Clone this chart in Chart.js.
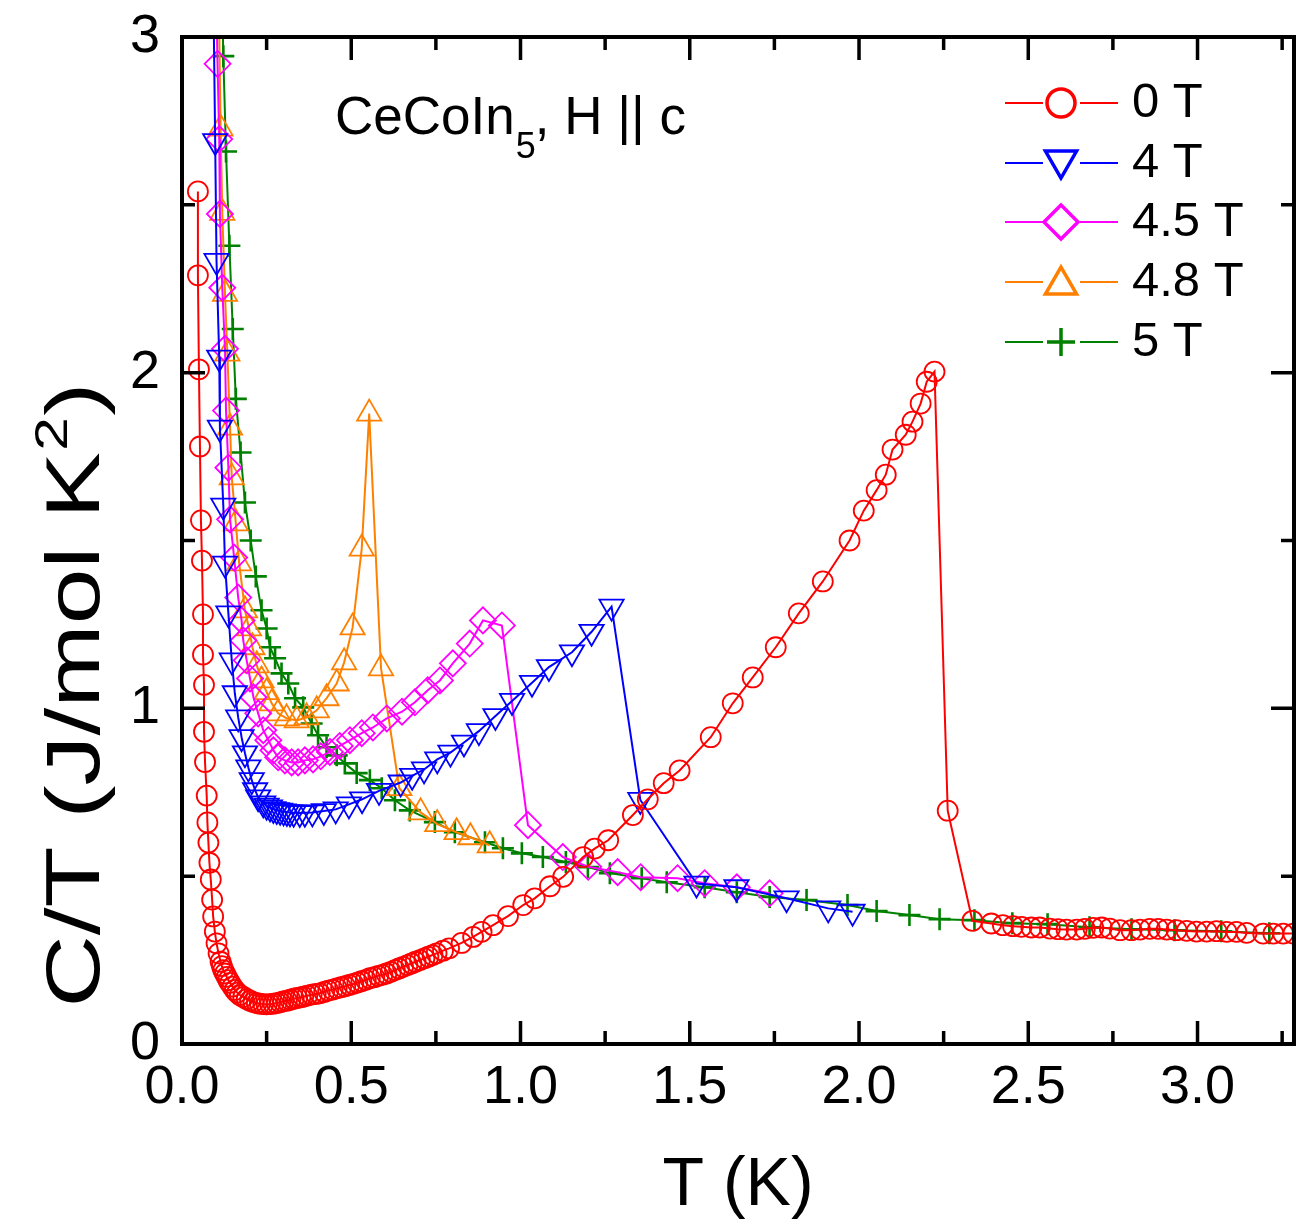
<!DOCTYPE html>
<html><head><meta charset="utf-8">
<script src="https://cdn.jsdelivr.net/npm/chart.js@4.4.0/dist/chart.umd.min.js"></script>
<style>html,body{margin:0;padding:0;background:#fff;}canvas{display:block;}</style>
</head><body>
<canvas id="c" width="1296" height="1229"></canvas>
<script>
const FONT = "'Liberation Sans', Arial, Helvetica, sans-serif";

// ---- data ----
const seriesLabels = ['0 T', '4 T', '4.5 T', '4.8 T', '5 T'];
const xMajorTicks = [0, 0.5, 1, 1.5, 2, 2.5, 3];
const xMinorTicks = [0.25, 0.75, 1.25, 1.75, 2.25, 2.75, 3.25];
const yMajorTicks = [0, 1, 2, 3];
const yMinorTicks = [0.5, 1.5, 2.5];

const T_0T = [0.047,0.047,0.050,0.053,0.056,0.059,0.062,0.062,0.065,0.065,0.068,0.073,0.075,0.078,0.081,0.085,0.089,0.092,0.097,0.102,0.108,0.114,0.118,0.122,0.127,0.132,0.137,0.142,0.149,0.156,0.163,0.171,0.181,0.191,0.201,0.211,0.221,0.230,0.240,0.250,0.260,0.270,0.280,0.290,0.299,0.310,0.320,0.330,0.340,0.350,0.358,0.370,0.383,0.395,0.407,0.420,0.432,0.445,0.457,0.470,0.482,0.494,0.506,0.518,0.530,0.543,0.555,0.568,0.580,0.592,0.604,0.617,0.629,0.641,0.653,0.666,0.678,0.690,0.703,0.716,0.728,0.740,0.752,0.771,0.789,0.826,0.860,0.885,0.919,0.963,1.008,1.042,1.087,1.126,1.185,1.219,1.259,1.332,1.376,1.423,1.470,1.562,1.627,1.686,1.754,1.822,1.893,1.972,2.014,2.052,2.079,2.099,2.138,2.158,2.182,2.200,2.223,2.262,2.335,2.391,2.425,2.455,2.480,2.509,2.534,2.564,2.588,2.613,2.643,2.667,2.692,2.717,2.741,2.771,2.805,2.830,2.859,2.884,2.909,2.938,2.968,2.997,3.027,3.056,3.086,3.115,3.145,3.194,3.224,3.253,3.283];
const CT_0T = [2.54,2.29,2.01,1.78,1.56,1.44,1.28,1.16,1.07,0.93,0.84,0.74,0.66,0.60,0.54,0.49,0.43,0.38,0.335,0.30,0.27,0.245,0.232,0.22,0.21,0.20,0.19,0.182,0.171,0.161,0.153,0.146,0.140,0.134,0.129,0.125,0.122,0.120,0.119,0.118,0.119,0.120,0.122,0.124,0.127,0.129,0.132,0.135,0.137,0.139,0.141,0.144,0.147,0.149,0.151,0.155,0.159,0.162,0.166,0.169,0.172,0.176,0.179,0.183,0.187,0.191,0.196,0.199,0.203,0.206,0.210,0.215,0.220,0.225,0.230,0.235,0.240,0.245,0.250,0.255,0.260,0.265,0.270,0.278,0.285,0.301,0.319,0.334,0.354,0.381,0.414,0.434,0.470,0.498,0.557,0.582,0.607,0.682,0.729,0.777,0.815,0.914,1.015,1.092,1.182,1.283,1.378,1.500,1.589,1.650,1.696,1.771,1.815,1.854,1.908,1.973,2.003,0.695,0.367,0.359,0.354,0.351,0.349,0.347,0.347,0.344,0.342,0.341,0.341,0.343,0.346,0.347,0.344,0.339,0.339,0.341,0.343,0.343,0.341,0.339,0.337,0.335,0.335,0.336,0.334,0.334,0.331,0.329,0.329,0.329,0.329];

const T_4T = [0.093,0.098,0.102,0.110,0.112,0.122,0.127,0.137,0.147,0.156,0.166,0.176,0.186,0.196,0.206,0.216,0.225,0.240,0.250,0.260,0.270,0.280,0.290,0.300,0.310,0.319,0.330,0.348,0.363,0.385,0.419,0.454,0.493,0.532,0.582,0.646,0.680,0.715,0.754,0.793,0.833,0.877,0.926,0.975,1.034,1.084,1.152,1.210,1.269,1.354,1.520,1.638,1.786,1.909,1.981];
const CT_4T = [3.1,2.69,2.333,2.045,1.836,1.604,1.431,1.283,1.143,1.045,0.973,0.914,0.866,0.824,0.786,0.756,0.735,0.717,0.710,0.705,0.700,0.697,0.695,0.693,0.691,0.690,0.689,0.688,0.689,0.690,0.694,0.699,0.714,0.729,0.754,0.779,0.799,0.818,0.848,0.868,0.898,0.932,0.977,1.022,1.076,1.123,1.167,1.228,1.303,0.727,0.478,0.467,0.434,0.404,0.394];

const T_45T = [0.1015,0.105,0.110,0.112,0.119,0.127,0.130,0.137,0.142,0.154,0.166,0.176,0.181,0.191,0.201,0.211,0.225,0.240,0.255,0.270,0.284,0.304,0.324,0.343,0.363,0.387,0.410,0.437,0.466,0.496,0.531,0.564,0.605,0.650,0.688,0.726,0.762,0.800,0.850,0.889,0.945,1.022,1.125,1.200,1.287,1.355,1.464,1.544,1.639,1.736];
const CT_45T = [3.1,2.92,2.696,2.473,2.253,2.071,1.887,1.717,1.563,1.449,1.330,1.262,1.202,1.143,1.089,1.033,0.985,0.935,0.905,0.875,0.854,0.845,0.839,0.839,0.845,0.848,0.857,0.870,0.888,0.905,0.926,0.943,0.970,0.990,1.018,1.054,1.083,1.134,1.193,1.262,1.247,0.652,0.557,0.528,0.512,0.497,0.494,0.479,0.467,0.449];

const T_48T = [0.109,0.114,0.119,0.127,0.134,0.142,0.147,0.159,0.169,0.186,0.198,0.208,0.221,0.235,0.250,0.265,0.284,0.309,0.339,0.368,0.398,0.427,0.457,0.479,0.504,0.531,0.553,0.588,0.642,0.705,0.754,0.811,0.852,0.909];
const CT_48T = [3.1,2.727,2.476,2.235,2.057,1.836,1.688,1.551,1.432,1.292,1.238,1.182,1.128,1.083,1.048,1.015,0.985,0.970,0.964,0.973,0.994,1.030,1.074,1.137,1.241,1.476,1.878,1.119,0.762,0.690,0.655,0.631,0.616,0.592];

const T_5T = [0.119,0.122,0.130,0.140,0.150,0.159,0.173,0.186,0.203,0.218,0.235,0.250,0.260,0.275,0.294,0.314,0.334,0.358,0.383,0.402,0.427,0.457,0.481,0.516,0.555,0.590,0.629,0.673,0.747,0.806,0.895,0.948,1.004,1.066,1.134,1.199,1.264,1.358,1.432,1.544,1.639,1.736,1.845,1.966,2.052,2.149,2.238,2.341,2.453,2.557,2.681,2.805,2.932,3.070,3.212];
const CT_5T = [3.1,2.943,2.659,2.378,2.130,1.922,1.762,1.613,1.500,1.393,1.292,1.238,1.182,1.149,1.104,1.074,1.030,1.003,0.955,0.920,0.884,0.860,0.836,0.807,0.786,0.762,0.726,0.696,0.661,0.631,0.601,0.583,0.568,0.557,0.542,0.527,0.509,0.494,0.482,0.467,0.452,0.438,0.429,0.414,0.396,0.384,0.372,0.369,0.360,0.357,0.348,0.342,0.339,0.336,0.330];

// ---- styles ----
const colors = ['#ff0000', '#0000ff', '#ff00ff', '#ff8000', '#008000'];
const pStyles = ['circle', 'triangle', 'rectRot', 'triangle', 'cross'];
const pRot = [0, 180, 0, 0, 0];
const pRad = [10, 14, 13, 14, 11];
const legendRad = [14, 18, 17, 18, 14];

function zip(xs, ys) { const n = Math.min(xs.length, ys.length); const a = []; for (let i = 0; i < n; i++) a.push({x: xs[i], y: ys[i]}); return a; }
const allT = [T_0T, T_4T, T_45T, T_48T, T_5T];
const allC = [CT_0T, CT_4T, CT_45T, CT_48T, CT_5T];

const datasets = seriesLabels.map((lab, i) => ({
  label: lab,
  data: zip(allT[i], allC[i]),
  showLine: true,
  borderColor: colors[i],
  borderWidth: 2,
  backgroundColor: 'rgba(0,0,0,0)',
  pointStyle: pStyles[i],
  pointRotation: pRot[i],
  pointRadius: pRad[i],
  pointBorderColor: colors[i],
  pointBackgroundColor: 'rgba(255,255,255,0)',
  pointBorderWidth: i === 4 ? 2.6 : 1.8,
  tension: 0,
  order: i
}));

const framePlugin = {
  id: 'frame',
  afterDatasetsDraw(chart) {
    const {ctx, chartArea: a, scales: {x, y}} = chart;
    ctx.save();
    ctx.strokeStyle = '#000';
    ctx.lineWidth = 3.5;
    ctx.beginPath();
    const tk = (v, len) => { const px = x.getPixelForValue(v); ctx.moveTo(px, a.bottom); ctx.lineTo(px, a.bottom - len); ctx.moveTo(px, a.top); ctx.lineTo(px, a.top + len); };
    xMajorTicks.forEach(v => tk(v, 23));
    xMinorTicks.forEach(v => { if (v <= x.max) tk(v, 13); });
    const tky = (v, len) => { const py = y.getPixelForValue(v); ctx.moveTo(a.left, py); ctx.lineTo(a.left + len, py); ctx.moveTo(a.right, py); ctx.lineTo(a.right - len, py); };
    yMajorTicks.forEach(v => tky(v, 23));
    yMinorTicks.forEach(v => tky(v, 13));
    ctx.stroke();
    ctx.lineWidth = 4;
    ctx.strokeRect(a.left, a.top, a.right - a.left, a.bottom - a.top);
    ctx.restore();
  },
  afterDraw(chart) {
    const ctx = chart.ctx;
    ctx.save();
    // legend
    const rowsY = [103, 163, 222, 282, 342];
    seriesLabels.forEach((lab, i) => {
      const yy = rowsY[i];
      ctx.strokeStyle = colors[i];
      ctx.lineWidth = 2;
      ctx.beginPath();
      ctx.moveTo(1005, yy); ctx.lineTo(1043, yy);
      ctx.moveTo(1080, yy); ctx.lineTo(1118, yy);
      ctx.stroke();
      ctx.fillStyle = 'rgba(0,0,0,0)';
      ctx.lineWidth = 3.5;
      Chart.helpers.drawPoint(ctx, {pointStyle: pStyles[i], rotation: pRot[i], radius: legendRad[i], borderWidth: 3.5}, 1061, yy + (pStyles[i]==='triangle' ? (pRot[i] ? -3 : 3) : 0));
      ctx.fillStyle = '#000';
      ctx.font = '49px ' + FONT;
      ctx.textBaseline = 'middle';
      ctx.textAlign = 'left';
      ctx.fillText(lab, 1132, yy);
    });
    // annotation
    ctx.fillStyle = '#000';
    ctx.textBaseline = 'alphabetic';
    ctx.font = '53px ' + FONT;
    let xx = 335;
    const t1 = 'CeCoIn';
    ctx.fillText(t1, xx, 134);
    xx += ctx.measureText(t1).width + 1;
    ctx.font = '36px ' + FONT;
    ctx.fillText('5', xx, 158);
    xx += ctx.measureText('5').width - 1;
    ctx.font = '53px ' + FONT;
    ctx.fillText(', H || c', xx, 134);

    // y-axis title
    const F = 76;
    const main = 'C/T (J/mol K', sup = '2', tail = ')';
    ctx.font = F + 'px ' + FONT;
    const w1 = ctx.measureText(main).width;
    const w3 = ctx.measureText(tail).width;
    ctx.font = Math.round(F * 0.6) + 'px ' + FONT;
    const w2 = ctx.measureText(sup).width;
    const W = w1 + w2 + w3 + 2;
    const target = 625;
    const sx = target / W;
    ctx.translate(99, 695);
    ctx.rotate(-Math.PI / 2);
    ctx.scale(sx, 1);
    ctx.textAlign = 'left';
    ctx.textBaseline = 'alphabetic';
    let p = -W / 2;
    ctx.font = F + 'px ' + FONT;
    ctx.fillText(main, p, 0);
    p += w1 + 1;
    ctx.font = Math.round(F * 0.6) + 'px ' + FONT;
    ctx.fillText(sup, p, -F * 0.42);
    p += w2 + 1;
    ctx.font = F + 'px ' + FONT;
    ctx.fillText(tail, p, 0);
    ctx.restore();
  }
};

const noPad = s => { s.paddingTop = 0; s.paddingBottom = 0; s.paddingLeft = 0; s.paddingRight = 0; };

new Chart(document.getElementById('c'), {
  type: 'scatter',
  data: {datasets},
  plugins: [framePlugin],
  options: {
    responsive: false,
    animation: false,
    layout: {autoPadding: false, padding: {top: 37, right: 2, left: 0, bottom: 0}},
    plugins: {legend: {display: false}, tooltip: {enabled: false}},
    scales: {
      x: {
        type: 'linear', min: 0, max: 3.285,
        grid: {display: false, drawTicks: false},
        border: {display: false},
        ticks: {stepSize: 0.5, includeBounds: false, autoSkip: false, maxRotation: 0, padding: 12, color: '#000',
          font: {family: FONT, size: 54}, callback: v => (Math.abs(v*2 - Math.round(v*2)) < 1e-6 ? v.toFixed(1) : '')},
        title: {display: true, text: 'T (K)', color: '#000', font: {family: FONT, size: 68}, padding: {top: 0, bottom: 2}},
        afterFit: s => { s.height = 185; noPad(s); }
      },
      y: {
        type: 'linear', min: 0, max: 3,
        grid: {display: false, drawTicks: false},
        border: {display: false},
        ticks: {stepSize: 1, includeBounds: false, autoSkip: false, padding: 22, color: '#000',
          font: {family: FONT, size: 54}, callback: v => (Number.isInteger(v) ? String(v) : '')},
        title: {display: false, text: 'C/T (J/mol K²)'},
        afterFit: s => { s.width = 182; noPad(s); }
      }
    }
  }
});
</script>
</body></html>
